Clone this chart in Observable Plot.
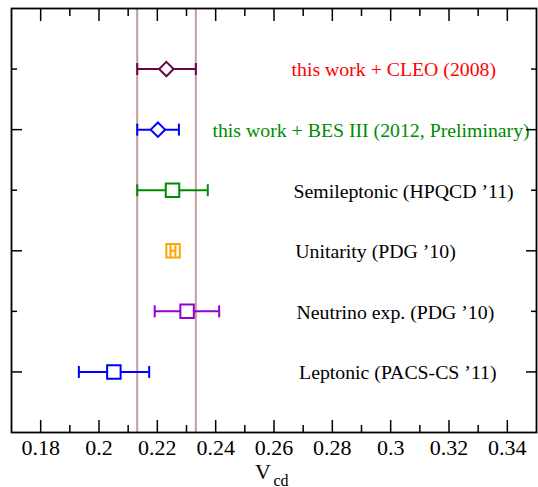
<!DOCTYPE html>
<html>
<head>
<meta charset="utf-8">
<script src="https://cdn.jsdelivr.net/npm/d3@7"></script>
<script src="https://cdn.jsdelivr.net/npm/@observablehq/plot@0.6"></script>
<style>
  html, body { margin: 0; padding: 0; background: #fff; }
  #chart { width: 538px; height: 487px; }
</style>
</head>
<body>
<div id="chart"></div>
<script>
// ---- data ----
const labels = [
  "this work + CLEO (2008)",
  "this work + BES III (2012, Preliminary)",
  "Semileptonic (HPQCD \u201911)",
  "Unitarity (PDG \u201910)",
  "Neutrino exp. (PDG \u201910)",
  "Leptonic (PACS-CS \u201911)"
];
const rowIndex   = [6, 5, 4, 3, 2, 1];
const centers    = [0.2231, 0.2202, 0.2252, 0.2254, 0.2302, 0.2051];
const lows       = [0.2131, 0.2131, 0.2131, 0.2245, 0.2191, 0.1931];
const highs      = [0.2332, 0.2274, 0.2373, 0.2262, 0.2412, 0.2172];
const markers    = ["diamond", "diamond", "square", "square", "square", "square"];
const colors     = ["#670748", "#0000ff", "#008b00", "#ffa500", "#9400d3", "#0000ff"];
const labelColors= ["#ff0000", "#008b00", "#000000", "#000000", "#000000", "#000000"];
const labelX     = [0.2660, 0.2389, 0.2667, 0.2673, 0.2677, 0.2686];
const bandEdges  = [0.2131, 0.2332];

const xMajor = [0.18, 0.20, 0.22, 0.24, 0.26, 0.28, 0.30, 0.32, 0.34];
const xTickLabels = ["0.18", "0.2", "0.22", "0.24", "0.26", "0.28", "0.3", "0.32", "0.34"];
const xMinor = [0.19, 0.21, 0.23, 0.25, 0.27, 0.29, 0.31, 0.33];
const yMajor = [1, 3, 5];
const yMinor = [2, 4, 6];

// ---- build table ----
const rows = labels.map((label, i) => ({
  label, row: rowIndex[i], c: centers[i], lo: lows[i], hi: highs[i],
  marker: markers[i], color: colors[i], labelColor: labelColors[i], lx: labelX[i]
}));

const vbar = {
  draw(ctx, size) {
    const r = Math.sqrt(size / Math.PI);
    ctx.moveTo(0, -r);
    ctx.lineTo(0, r);
  }
};

const noText = () => "";
const serif = "Liberation Serif";

const errorMarks = (data) => [
  Plot.ruleY(data, {y: "row", x1: "lo", x2: "hi", stroke: "color", strokeWidth: 2}),
  Plot.dot(data, {x: "lo", y: "row", symbol: vbar, r: 6, stroke: "color", fill: "none", strokeWidth: 2}),
  Plot.dot(data, {x: "hi", y: "row", symbol: vbar, r: 6, stroke: "color", fill: "none", strokeWidth: 2})
];

const chart = Plot.plot({
  width: 538,
  height: 487,
  marginLeft: 11,
  marginRight: 2,
  marginTop: 8,
  marginBottom: 55,
  style: {fontFamily: serif, fontSize: "20px", background: "white", color: "black"},
  x: {domain: [0.17, 0.35], label: null},
  y: {domain: [0, 7], label: null},
  color: {type: "identity"},
  marks: [
    Plot.ruleX(bandEdges, {x: d => d, stroke: "#c79c9c", strokeWidth: 2}),
    ...errorMarks(rows),
    Plot.dot(rows, {filter: d => d.marker === "diamond", x: "c", y: "row", symbol: "diamond2", r: 6.5,
      stroke: "color", fill: "white", strokeWidth: 2}),
    Plot.dot(rows, {filter: d => d.marker === "square", x: "c", y: "row", symbol: "square", r: 7.6,
      stroke: "color", fill: "white", strokeWidth: 2}),
    ...errorMarks(rows.filter(d => d.hi - d.lo < 0.004)),
    Plot.text(rows, {x: "lx", y: "row", text: "label", fill: "labelColor", textAnchor: "start",
      lineAnchor: "middle", dy: 1, fontSize: 19.8, fontFamily: serif}),
    // inward ticks on all four sides
    Plot.axisX(xMajor, {anchor: "bottom", tickSize: -12, tickFormat: noText, strokeWidth: 1.5, label: null}),
    Plot.axisX(xMinor, {anchor: "bottom", tickSize: -7, tickFormat: noText, strokeWidth: 1.5, label: null}),
    Plot.axisX(xMajor, {anchor: "top", tickSize: -12, tickFormat: noText, strokeWidth: 1.5, label: null}),
    Plot.axisX(xMinor, {anchor: "top", tickSize: -7, tickFormat: noText, strokeWidth: 1.5, label: null}),
    Plot.axisY(yMajor, {anchor: "left", tickSize: -11, tickFormat: noText, strokeWidth: 1.5, label: null}),
    Plot.axisY(yMinor, {anchor: "left", tickSize: -6, tickFormat: noText, strokeWidth: 1.5, label: null}),
    Plot.axisY(yMajor, {anchor: "right", tickSize: -11, tickFormat: noText, strokeWidth: 1.5, label: null}),
    Plot.axisY(yMinor, {anchor: "right", tickSize: -6, tickFormat: noText, strokeWidth: 1.5, label: null}),
    // tick labels
    Plot.axisX(xMajor, {anchor: "bottom", tickSize: 0, tickPadding: 7,
      tickFormat: d => xTickLabels[xMajor.indexOf(d)], fontSize: 22, fontFamily: serif, label: null}),
    Plot.frame({stroke: "black", strokeWidth: 1.8}),
    // axis title V_cd
    Plot.text(["V"], {text: d => d, frameAnchor: "bottom", dx: -11, dy: 46, lineAnchor: "bottom",
      fontSize: 22, fontFamily: serif}),
    Plot.text(["cd"], {text: d => d, frameAnchor: "bottom", textAnchor: "start", dx: -0.5, dy: 53,
      lineAnchor: "bottom", fontSize: 16, fontFamily: serif})
  ]
});

document.getElementById("chart").appendChild(chart);
</script>
</body>
</html>
